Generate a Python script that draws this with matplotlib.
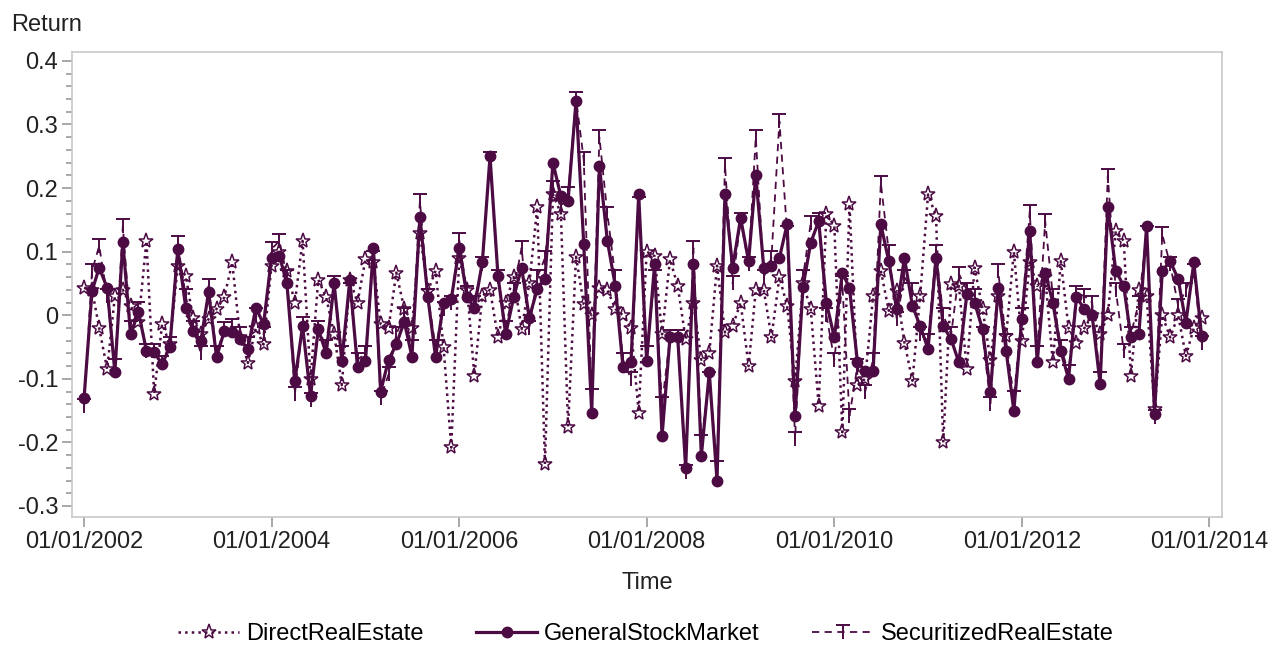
import numpy as np
import pandas as pd
import matplotlib
matplotlib.use('Agg')
import matplotlib.pyplot as plt
import matplotlib.dates as mdates
from matplotlib.path import Path
from matplotlib.ticker import MultipleLocator, FuncFormatter

# monthly returns, Jan 2002 - Dec 2013 (one row per year)
months = pd.date_range('2002-01-01', periods=144, freq='MS')

stock_market = [
    -0.13, 0.038, 0.075, 0.043, -0.09, 0.115, -0.03, 0.005, -0.056, -0.058, -0.077, -0.05,
    0.104, 0.012, -0.025, -0.04, 0.036, -0.066, -0.025, -0.027, -0.038, -0.053, 0.012, -0.014,
    0.09, 0.093, 0.05, -0.103, -0.017, -0.127, -0.022, -0.06, 0.05, -0.072, 0.056, -0.082,
    -0.072, 0.106, -0.12, -0.07, -0.046, -0.01, -0.065, 0.155, 0.028, -0.066, 0.02, 0.025,
    0.106, 0.028, 0.012, 0.083, 0.25, 0.062, -0.03, 0.028, 0.075, -0.004, 0.041, 0.057,
    0.24, 0.187, 0.18, 0.337, 0.112, -0.153, 0.235, 0.117, 0.046, -0.082, -0.074, 0.19,
    -0.072, 0.08, -0.19, -0.035, -0.035, -0.24, 0.08, -0.221, -0.09, -0.26, 0.19, 0.075,
    0.153, 0.085, 0.22, 0.075, 0.078, 0.09, 0.143, -0.158, 0.045, 0.114, 0.148, 0.02,
    -0.035, 0.067, 0.043, -0.074, -0.087, -0.087, 0.143, 0.085, 0.01, 0.09, 0.015, -0.017,
    -0.053, 0.09, -0.017, -0.038, -0.074, 0.033, 0.02, -0.022, -0.121, 0.043, -0.056, -0.15,
    -0.006, 0.133, -0.074, 0.067, 0.02, -0.056, -0.1, 0.028, 0.01, 0.0, -0.108, 0.17,
    0.07, 0.046, -0.035, -0.03, 0.14, -0.155, 0.07, 0.085, 0.057, -0.012, 0.083, -0.032,
]

direct_re = [
    0.043, 0.04, -0.02, -0.085, 0.03, 0.04, 0.015, -0.01, 0.117, -0.124, -0.014, -0.045,
    0.078, 0.062, -0.004, -0.03, -0.006, 0.01, 0.028, 0.083, -0.035, -0.075, -0.02, -0.046,
    0.078, 0.1, 0.07, 0.02, 0.117, -0.1, 0.056, 0.028, -0.03, -0.11, 0.056, 0.02,
    0.088, 0.083, -0.014, -0.02, 0.067, 0.01, -0.02, 0.13, 0.038, 0.07, -0.05, -0.208,
    0.09, 0.04, -0.095, 0.03, 0.04, -0.035, 0.02, 0.06, -0.022, 0.05, 0.17, -0.234,
    0.19, 0.16, -0.175, 0.092, 0.017, 0.0, 0.043, 0.04, 0.01, 0.0, -0.02, -0.153,
    0.1, 0.093, -0.03, 0.088, 0.046, -0.038, 0.02, -0.07, -0.06, 0.078, -0.027, -0.017,
    0.02, -0.08, 0.04, 0.04, -0.035, 0.06, 0.015, -0.103, 0.05, 0.01, -0.142, 0.16,
    0.14, -0.184, 0.175, -0.11, -0.1, 0.03, 0.07, 0.007, 0.038, -0.043, -0.103, 0.03,
    0.19, 0.156, -0.2, 0.049, 0.046, -0.085, 0.075, 0.01, -0.07, 0.03, -0.033, 0.1,
    -0.04, 0.083, 0.046, 0.06, -0.074, 0.085, -0.02, -0.043, -0.02, 0.0, -0.03, 0.0,
    0.133, 0.117, -0.095, 0.04, 0.03, -0.148, 0.0, -0.035, 0.0, -0.064, -0.02, -0.004,
]

securitized_re = [
    -0.142, 0.07, 0.109, 0.03, -0.08, 0.14, -0.02, 0.01, -0.056, -0.056, -0.075, -0.045,
    0.113, 0.03, -0.02, -0.06, 0.046, -0.06, -0.022, -0.017, -0.03, -0.045, 0.0, -0.03,
    0.104, 0.117, 0.06, -0.124, -0.014, -0.133, -0.02, -0.05, 0.05, -0.06, 0.04, -0.07,
    -0.06, 0.09, -0.13, -0.093, -0.03, 0.0, -0.05, 0.18, 0.03, -0.05, 0.01, 0.02,
    0.118, 0.035, 0.02, 0.08, 0.245, 0.06, -0.02, 0.04, 0.106, -0.02, 0.06, 0.09,
    0.2, 0.17, 0.19, 0.34, 0.245, -0.127, 0.28, 0.16, 0.06, -0.07, -0.1, 0.175,
    -0.06, 0.06, -0.14, -0.035, -0.035, -0.247, 0.106, -0.2, -0.1, -0.24, 0.237, 0.05,
    0.15, 0.08, 0.28, 0.06, 0.09, 0.305, 0.13, -0.195, 0.06, 0.145, 0.15, 0.0,
    -0.07, 0.05, -0.158, -0.08, -0.12, -0.07, 0.208, 0.1, -0.006, 0.06, 0.04, -0.03,
    -0.04, 0.1, 0.0, -0.03, 0.065, 0.04, 0.03, -0.03, -0.14, 0.07, -0.04, -0.13,
    0.0, 0.163, -0.06, 0.148, 0.03, -0.05, -0.09, 0.035, 0.03, 0.02, -0.1, 0.219,
    0.04, -0.056, -0.03, 0.02, 0.13, -0.16, 0.127, 0.08, 0.015, 0.04, 0.07, -0.043,
]

y_ticks = [-0.3, -0.2, -0.1, 0, 0.1, 0.2, 0.3, 0.4]
x_ticks = pd.date_range('2002-01-01', '2014-01-01', freq='2YS')

color = '#4C0B43'
plt.rcParams['font.family'] = ['Liberation Sans', 'DejaVu Sans']

# "tack" marker: bar on top, stem below
tack = Path([(-1, 1), (1, 1), (0, 1), (0, -1)],
            [Path.MOVETO, Path.LINETO, Path.MOVETO, Path.LINETO])

fig = plt.figure(figsize=(12.81, 6.46), dpi=100)
ax = fig.add_axes([0.0562, 0.2, 0.898, 0.7195])

ax.plot(months, direct_re, linestyle=':', linewidth=1.8, color=color,
        marker='*', markersize=11, markerfacecolor='none', markeredgewidth=1.1,
        label='DirectRealEstate')
ax.plot(months, stock_market, linestyle='-', linewidth=2.3, color=color,
        marker='o', markersize=7.5, label='GeneralStockMarket')
ax.plot(months, securitized_re, linestyle=(0, (4, 3)), linewidth=1.3, color=color,
        marker=tack, markersize=10, markerfacecolor='none', markeredgewidth=1.4,
        label='SecuritizedRealEstate')

ax.set_xlim(pd.Timestamp('2001-11-15'), pd.Timestamp('2014-02-20'))
ax.set_ylim(-0.317, 0.414)

ax.set_xticks(x_ticks)
ax.xaxis.set_major_formatter(mdates.DateFormatter('%m/%d/%Y'))
ax.set_yticks(y_ticks)
ax.yaxis.set_minor_locator(MultipleLocator(0.02))
ax.yaxis.set_major_formatter(FuncFormatter(lambda v, p: '0' if abs(v) < 1e-9 else f'{v:.1f}'))

for s in ax.spines.values():
    s.set_color('#c8c8c8')
    s.set_linewidth(1.2)
ax.tick_params(axis='both', which='major', length=7, width=1.2, color='#9a9a9a',
               labelsize=17, labelcolor='#222222', pad=3)
ax.tick_params(axis='y', which='minor', length=4, width=1.2, color='#9a9a9a')

ax.set_xlabel('Time', fontsize=17, color='#222222', labelpad=14)
fig.text(0.009, 0.962, 'Return', fontsize=17, color='#222222', va='center')

fig.legend(loc='center', bbox_to_anchor=(0.504, 0.018), ncol=3, frameon=False,
           fontsize=17, handlelength=2.6, columnspacing=2.2, handletextpad=0.3)

fig.savefig('out.png', dpi=100)
